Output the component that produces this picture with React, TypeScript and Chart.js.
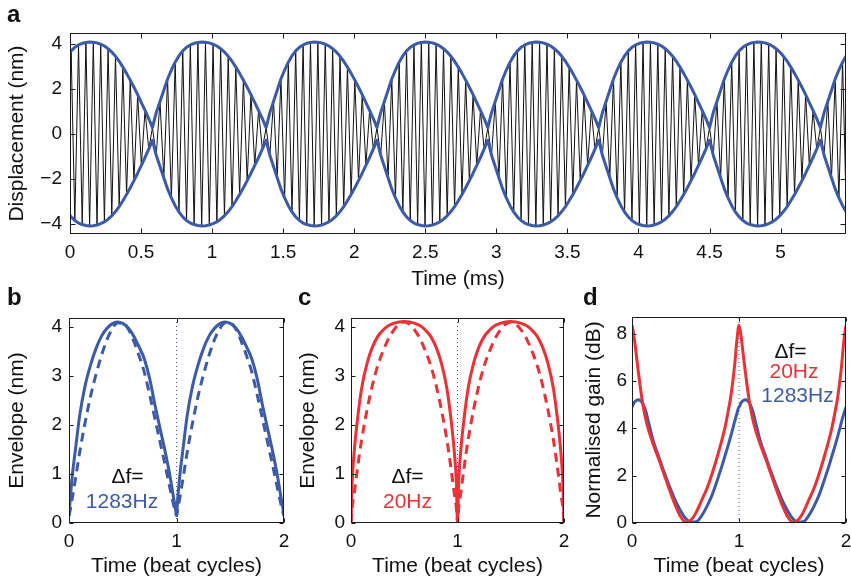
import React, { useEffect, useRef } from 'react';
import { Chart, registerables } from 'chart.js';

Chart.register(...registerables);

const FONT = '"Liberation Sans", Arial, Helvetica, sans-serif';
const BLUE = '#3b5ba9';
const RED = '#ec3136';
const INK = '#111111';

// ---------- Panel a : beating displacement ----------
const beatNodesMs = [-0.2, 0.58, 1.38, 2.16, 2.94, 3.72, 4.5, 5.28, 6.06];
// upper envelope across one beat, read at 31 equally spaced phases between nodes
// (each phase sample is also one turning point of the fast carrier)
const eyeEnvelopeNm = [
  0.28, 0.95, 1.45, 1.95, 2.45, 2.85, 3.2, 3.48, 3.7, 3.86, 3.97,
  4.04, 4.08, 4.1, 4.09, 4.06, 4.0, 3.92, 3.8, 3.65, 3.46,
  3.24, 2.98, 2.7, 2.4, 2.08, 1.75, 1.4, 1.05, 0.68, 0.28,
];
const timeRangeMs = [0, 5.46];
const dispRangeNm = [-4.46, 4.5];
const timeTicksMs = [0, 0.5, 1, 1.5, 2, 2.5, 3, 3.5, 4, 4.5, 5];
const timeTickLabels = ['0', '0.5', '1', '1.5', '2', '2.5', '3', '3.5', '4', '4.5', '5'];
const dispTicksNm = [-4, -2, 0, 2, 4];
const dispTickLabels = ['\u22124', '\u22122', '0', '2', '4'];

// ---------- Panels b, c : envelope over beat cycles ----------
const beatCycles = [0, 1];
const beatPhase = [0, 0.01, 0.03, 0.06, 0.1, 0.15, 0.2, 0.25, 0.3, 0.35, 0.4, 0.45, 0.5,
  0.55, 0.6, 0.65, 0.7, 0.75, 0.8, 0.85, 0.9, 0.94, 0.97, 0.99, 1.0];
const envSolid1283 = [0.15, 0.45, 0.95, 1.5, 2.2, 2.8, 3.22, 3.55, 3.8, 3.96, 4.06, 4.1, 4.07,
  3.98, 3.82, 3.6, 3.35, 2.95, 2.4, 1.9, 1.4, 0.95, 0.55, 0.3, 0.15];
const envDashed1283 = [0.15, 0.25, 0.5, 0.9, 1.45, 2.05, 2.58, 3.02, 3.4, 3.72, 3.95, 4.08, 4.08,
  3.96, 3.72, 3.42, 3.08, 2.62, 2.12, 1.62, 1.12, 0.7, 0.4, 0.22, 0.15];
const envSolid20 = [0, 0.8, 1.45, 2.1, 2.75, 3.25, 3.58, 3.8, 3.93, 4.02, 4.07, 4.1, 4.11,
  4.1, 4.07, 4.02, 3.93, 3.8, 3.58, 3.25, 2.75, 2.1, 1.45, 0.8, 0];
const envDashed20 = [0, 0.3, 0.6, 1.1, 1.7, 2.3, 2.8, 3.2, 3.5, 3.75, 3.93, 4.05, 4.1,
  4.05, 3.93, 3.75, 3.5, 3.2, 2.8, 2.3, 1.7, 1.1, 0.6, 0.3, 0];
const beatRange = [0, 2];
const envRangeNm = [0, 4.18];
const beatTicks = [0, 1, 2];
const beatTickLabels = ['0', '1', '2'];
const envTicks = [0, 1, 2, 3, 4];
const envTickLabels = ['0', '1', '2', '3', '4'];
const beatMarkerX = [1];

// ---------- Panel d : normalised gain ----------
const gainPhase = [0, 0.02, 0.04, 0.06, 0.08, 0.1, 0.13, 0.16, 0.2, 0.25, 0.3, 0.35, 0.4, 0.45, 0.5,
  0.55, 0.6, 0.65, 0.7, 0.75, 0.8, 0.84, 0.87, 0.9, 0.92, 0.94, 0.96, 0.98, 1.0];
const gain20 = [8.35, 7.85, 7.1, 6.35, 5.65, 5.05, 4.35, 3.85, 3.3, 2.7, 2.05, 1.4, 0.8, 0.3, 0.04,
  0.12, 0.45, 0.95, 1.45, 2.1, 2.85, 3.5, 4.05, 4.75, 5.25, 5.9, 6.7, 7.7, 8.35];
const gain1283 = [4.9, 5.08, 5.17, 5.2, 5.16, 5.05, 4.7, 4.15, 3.45, 2.8, 2.15, 1.55, 1.0, 0.55, 0.2,
  0.03, 0.05, 0.3, 0.7, 1.2, 1.85, 2.4, 2.85, 3.3, 3.62, 3.95, 4.3, 4.62, 4.9];
const gainRangeDb = [0, 8.7];
const gainTicks = [0, 2, 4, 6, 8];
const gainTickLabels = ['0', '2', '4', '6', '8'];

// ---------- helpers ----------
function buildEnvelope() {
  const upper: any[] = [];
  const lower: any[] = [];
  const carrier: any[] = [];
  const last = eyeEnvelopeNm.length - 1;
  let n = 0;
  for (let i = 0; i < beatNodesMs.length - 1; i++) {
    const t0 = beatNodesMs[i];
    const t1 = beatNodesMs[i + 1];
    for (let k = 0; k < last; k++) {
      const t = t0 + ((t1 - t0) * k) / last;
      const v = eyeEnvelopeNm[k];
      upper.push({ x: t, y: v });
      lower.push({ x: t, y: -v });
      carrier.push({ x: t, y: n % 2 === 0 ? v : -v });
      n++;
    }
  }
  const tEnd = beatNodesMs[beatNodesMs.length - 1];
  const vEnd = eyeEnvelopeNm[last];
  upper.push({ x: tEnd, y: vEnd });
  lower.push({ x: tEnd, y: -vEnd });
  carrier.push({ x: tEnd, y: n % 2 === 0 ? vEnd : -vEnd });
  return { upper, lower, carrier };
}

function cycleTable(phase: number[], values: number[]) {
  const pts: any[] = [];
  beatCycles.forEach((c) => phase.forEach((p, i) => pts.push({ x: c + p, y: values[i] })));
  return pts;
}

function axis(
  range: number[], ticks: number[], labels: string[], title: string,
  isY: boolean, size: number, tickPad: number,
) {
  return {
    type: 'linear',
    min: range[0],
    max: range[1],
    grid: { display: false, drawTicks: false },
    border: { display: false },
    afterBuildTicks: (s: any) => { s.ticks = ticks.map((v) => ({ value: v })); },
    afterFit: (s: any) => {
      if (isY) s.width = size; else s.height = size;
      s.paddingLeft = 0; s.paddingRight = 0; s.paddingTop = 0; s.paddingBottom = 0;
    },
    ticks: {
      autoSkip: false, maxRotation: 0, minRotation: 0, padding: tickPad, color: INK,
      font: { family: FONT, size: 19 },
      callback: (_v: any, i: number) => labels[i],
    },
    title: {
      display: true, text: title, color: INK,
      font: { family: FONT, size: 21, lineHeight: 1.2 },
      padding: isY ? { top: 5, bottom: 0 } : { top: 0, bottom: 0 },
    },
  };
}

const frameTicks = (len: number) => ({
  id: 'frameTicks',
  afterDatasetsDraw(chart: any) {
    const { ctx, chartArea } = chart;
    const x = chart.scales.x;
    const y = chart.scales.y;
    const L = Math.round(chartArea.left) + 0.5;
    const R = Math.round(chartArea.right) - 0.5;
    const T = Math.round(chartArea.top) + 0.5;
    const B = Math.round(chartArea.bottom) - 0.5;
    ctx.save();
    ctx.strokeStyle = '#1a1a1a';
    ctx.lineWidth = 1;
    ctx.beginPath();
    x.ticks.forEach((t: any) => {
      const px = Math.round(x.getPixelForValue(t.value)) + 0.5;
      ctx.moveTo(px, B); ctx.lineTo(px, B - len);
      ctx.moveTo(px, T); ctx.lineTo(px, T + len);
    });
    y.ticks.forEach((t: any) => {
      const py = Math.round(y.getPixelForValue(t.value)) + 0.5;
      ctx.moveTo(L, py); ctx.lineTo(L + len, py);
      ctx.moveTo(R, py); ctx.lineTo(R - len, py);
    });
    ctx.stroke();
    ctx.strokeRect(L, T, R - L, B - T);
    ctx.restore();
  },
});

function baseOptions(padding: any) {
  return {
    responsive: false,
    maintainAspectRatio: false,
    animation: false,
    events: [],
    layout: { padding },
    plugins: { legend: { display: false }, tooltip: { enabled: false }, title: { display: false } },
  };
}

function markerSet(yr: number[]) {
  return {
    data: [{ x: beatMarkerX[0], y: yr[0] }, { x: beatMarkerX[0], y: yr[1] }],
    borderColor: BLUE, borderWidth: 1, borderDash: [1, 3], pointRadius: 0,
  };
}

function curve(data: any[], color: string, dashed: boolean) {
  return {
    data, borderColor: color, borderWidth: 3, pointRadius: 0,
    borderDash: dashed ? [9, 6] : [], cubicInterpolationMode: 'monotone',
    borderJoinStyle: 'round',
  };
}

function configA() {
  const env = buildEnvelope();
  return {
    type: 'line',
    data: {
      datasets: [
        { data: env.upper, borderColor: BLUE, borderWidth: 3, pointRadius: 0, clip: 0, borderJoinStyle: 'round' },
        { data: env.lower, borderColor: BLUE, borderWidth: 3, pointRadius: 0, clip: 0, borderJoinStyle: 'round' },
        { data: env.carrier, borderColor: INK, borderWidth: 1, pointRadius: 0, clip: 0 },
      ],
    },
    options: {
      ...baseOptions({ left: 0, top: 33, right: 5, bottom: 0 }),
      scales: {
        x: axis(timeRangeMs, timeTicksMs, timeTickLabels, 'Time (ms)', false, 58, 7),
        y: axis(dispRangeNm, dispTicksNm, dispTickLabels, 'Displacement (nm)', true, 70, 8),
      },
    },
    plugins: [frameTicks(5)],
  };
}

function configEnv(solid: number[], dashed: number[], color: string, yWidth: number, yPad: number) {
  return {
    type: 'line',
    data: {
      datasets: [
        curve(cycleTable(beatPhase, solid), color, false),
        curve(cycleTable(beatPhase, dashed), color, true),
        markerSet(envRangeNm),
      ],
    },
    options: {
      ...baseOptions({ left: 0, top: 26, right: 12, bottom: 0 }),
      scales: {
        x: axis(beatRange, beatTicks, beatTickLabels, 'Time (beat cycles)', false, 56, 7),
        y: axis(envRangeNm, envTicks, envTickLabels, 'Envelope (nm)', true, yWidth, yPad),
      },
    },
    plugins: [frameTicks(4)],
  };
}

function configGain() {
  return {
    type: 'line',
    data: {
      datasets: [
        curve(cycleTable(gainPhase, gain20), RED, false),
        curve(cycleTable(gainPhase, gain1283), BLUE, false),
        markerSet(gainRangeDb),
      ],
    },
    options: {
      ...baseOptions({ left: 0, top: 25, right: 5, bottom: 0 }),
      scales: {
        x: axis(beatRange, beatTicks, beatTickLabels, 'Time (beat cycles)', false, 56, 7),
        y: axis(gainRangeDb, gainTicks, gainTickLabels, 'Normalised gain (dB)', true, 55, 5),
      },
    },
    plugins: [frameTicks(4)],
  };
}

function ChartCanvas(props: { left: number; top: number; width: number; height: number; make: () => any }) {
  const ref = useRef<HTMLCanvasElement>(null);
  useEffect(() => {
    const chart = new Chart(ref.current as HTMLCanvasElement, props.make());
    return () => chart.destroy();
  }, []);
  return (
    <canvas
      ref={ref}
      width={props.width}
      height={props.height}
      style={{ position: 'absolute', left: props.left, top: props.top, width: props.width, height: props.height }}
    />
  );
}

function Label(props: { x: number; y: number; text: string; color?: string; bold?: boolean; size?: number; center?: boolean }) {
  return (
    <div
      style={{
        position: 'absolute', left: props.x, top: props.y, whiteSpace: 'nowrap',
        fontFamily: FONT, fontSize: props.size || 21, lineHeight: 1,
        fontWeight: props.bold ? 'bold' : 'normal', color: props.color || INK,
        transform: props.center ? 'translateX(-50%)' : undefined,
      }}
    >
      {props.text}
    </div>
  );
}

export default function App() {
  return (
    <div style={{ position: 'absolute', left: 0, top: 0, width: 851, height: 579, background: '#ffffff', overflow: 'hidden' }}>
      <ChartCanvas left={0} top={0} width={851} height={292} make={configA} />
      <ChartCanvas left={0} top={292} width={296} height={287} make={() => configEnv(envSolid1283, envDashed1283, BLUE, 69, 7)} />
      <ChartCanvas left={291} top={292} width={285} height={287} make={() => configEnv(envSolid20, envDashed20, RED, 60, 6)} />
      <ChartCanvas left={577} top={292} width={274} height={287} make={configGain} />

      <Label x={7} y={1.7} text="a" bold size={24} />
      <Label x={7} y={284.7} text="b" bold size={24} />
      <Label x={298} y={284.7} text="c" bold size={24} />
      <Label x={583} y={284.7} text="d" bold size={24} />

      <Label x={127.5} y={464.7} text="Δf=" center />
      <Label x={122} y={489.7} text="1283Hz" color={BLUE} center />
      <Label x={407.5} y={464.7} text="Δf=" center />
      <Label x={407.5} y={489.7} text="20Hz" color={RED} center />
      <Label x={790.5} y={339.7} text="Δf=" center />
      <Label x={794} y={359.7} text="20Hz" color={RED} center />
      <Label x={797.5} y={383.7} text="1283Hz" color={BLUE} center />
    </div>
  );
}
